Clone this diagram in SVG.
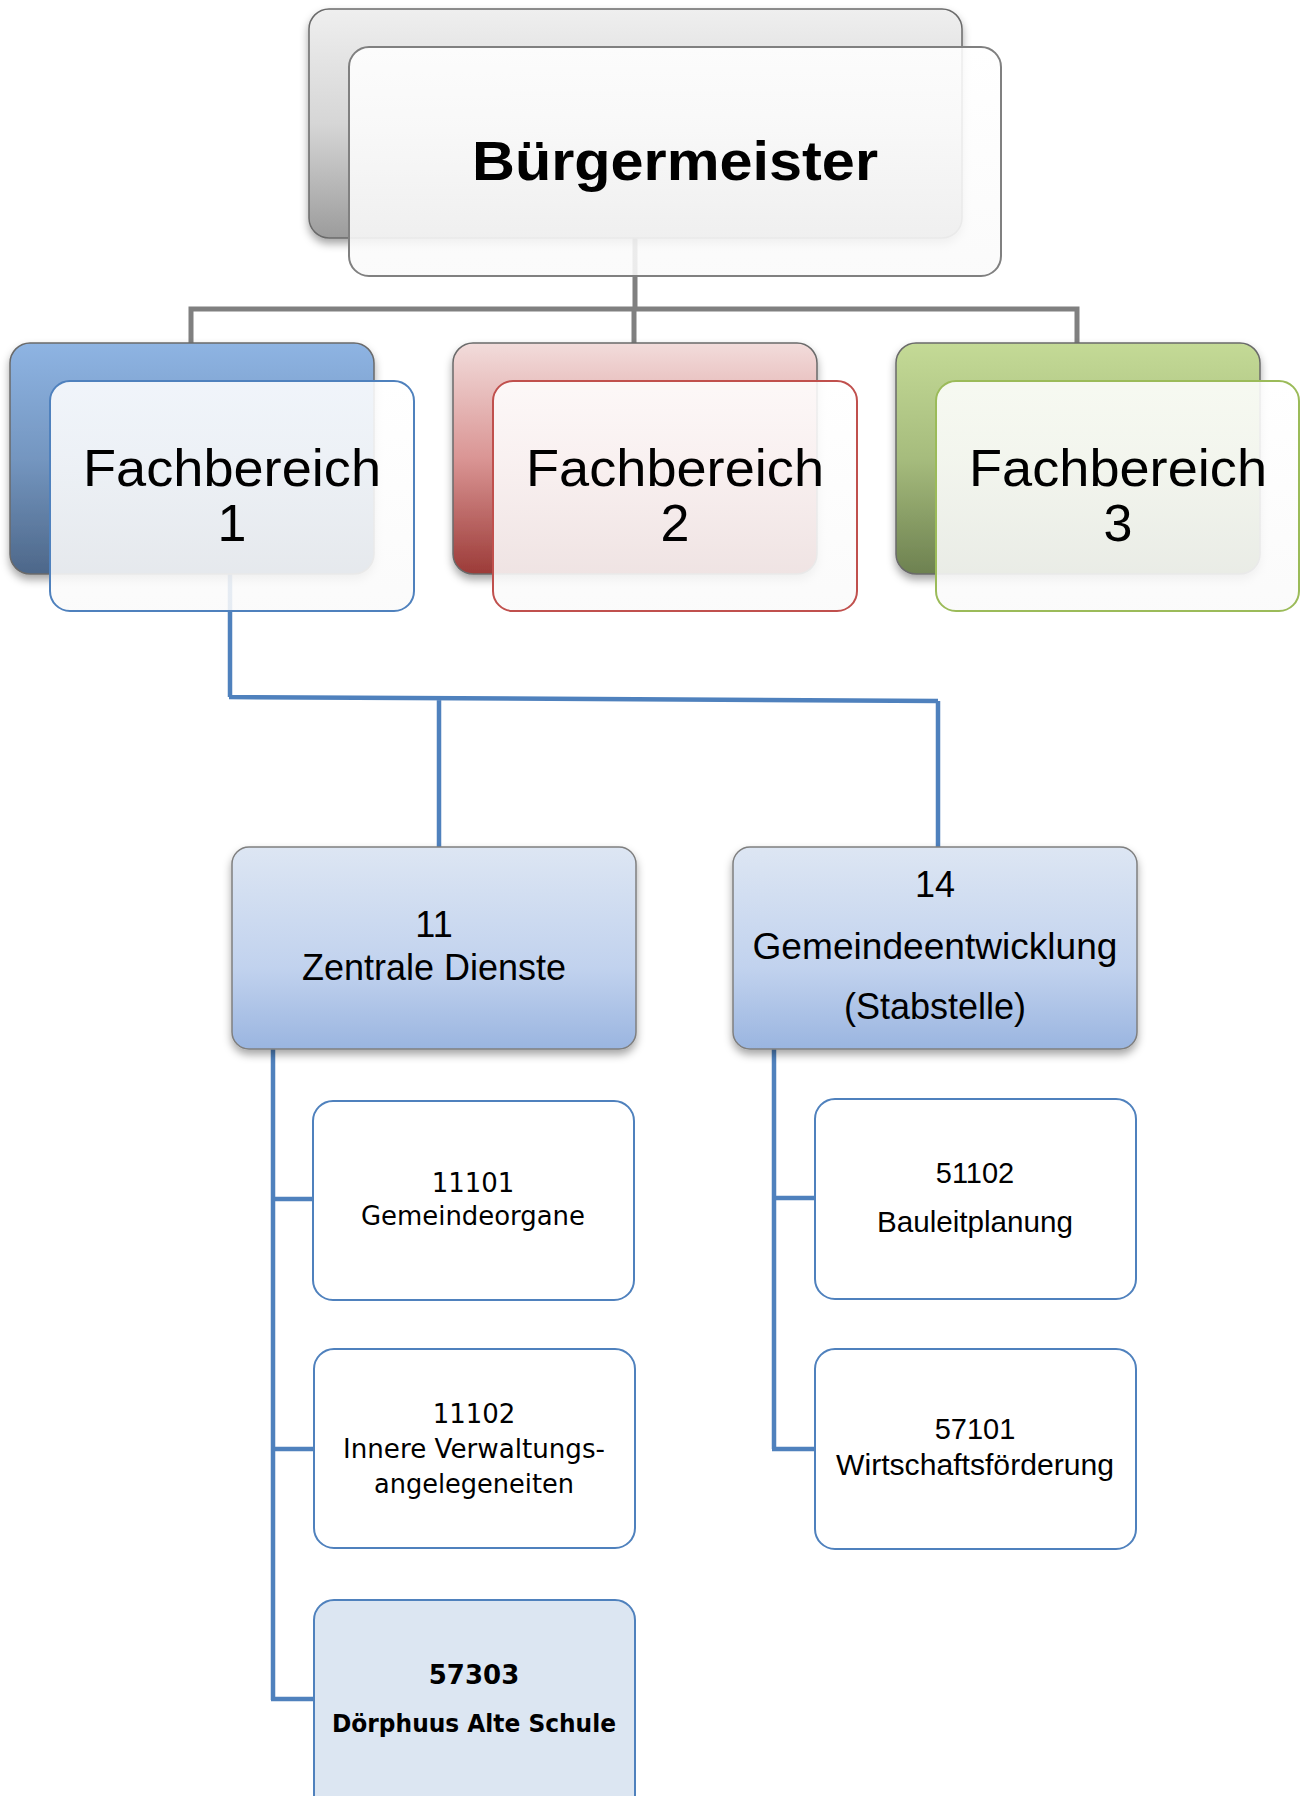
<svg xmlns="http://www.w3.org/2000/svg" width="1303" height="1796" viewBox="0 0 1303 1796">
<defs>
<linearGradient id="gGray" x1="0" y1="0" x2="0" y2="1"><stop offset="0" stop-color="#EFEFEF"/><stop offset="0.5" stop-color="#D6D6D6"/><stop offset="1" stop-color="#9C9C9C"/></linearGradient>
<linearGradient id="gBlue" x1="0" y1="0" x2="0" y2="1"><stop offset="0" stop-color="#8EB4E3"/><stop offset="0.5" stop-color="#7496C0"/><stop offset="1" stop-color="#4D6789"/></linearGradient>
<linearGradient id="gRed" x1="0" y1="0" x2="0" y2="1"><stop offset="0" stop-color="#F2DCDB"/><stop offset="0.5" stop-color="#DA9594"/><stop offset="1" stop-color="#9C3B38"/></linearGradient>
<linearGradient id="gGreen" x1="0" y1="0" x2="0" y2="1"><stop offset="0" stop-color="#C4DA96"/><stop offset="0.5" stop-color="#A6BC7D"/><stop offset="1" stop-color="#6D8150"/></linearGradient>
<linearGradient id="gMid" x1="0" y1="0" x2="0" y2="1"><stop offset="0" stop-color="#DDE6F3"/><stop offset="0.6" stop-color="#C1D2EE"/><stop offset="1" stop-color="#9AB5E0"/></linearGradient>
<linearGradient id="gFront" x1="0" y1="0" x2="0" y2="1"><stop offset="0" stop-color="#FFFFFF"/><stop offset="1" stop-color="#FAFAFA"/></linearGradient>
<filter id="sh" x="-10%" y="-10%" width="120%" height="130%"><feDropShadow dx="0" dy="5" stdDeviation="4" flood-color="#000" flood-opacity="0.35"/></filter>
<style>
.back{stroke:#6A6A6A;stroke-width:1.5;filter:url(#sh)}
.front{fill:url(#gFront);fill-opacity:0.88;stroke-width:2}
.leaf{fill:#FFFFFF;stroke:#4F81BD;stroke-width:2}
.mid{fill:url(#gMid);stroke:#7F7F7F;stroke-width:1.5;filter:url(#sh)}
.gray{stroke:#808080;stroke-width:5;fill:none}
.blue{stroke:#4F81BD;stroke-width:4.5;fill:none}
.big{font-family:"Liberation Sans",Arial,sans-serif;fill:#000;text-anchor:middle}
.cal{font-family:"Liberation Sans",Arial,sans-serif;fill:#000;text-anchor:middle}
.ver{font-family:"DejaVu Sans",Verdana,sans-serif;fill:#000;text-anchor:middle}
</style>
</defs>
<g id="connectors">
<path class="gray" d="M635 238 V309 M191 343 V309 H1077 V343 M634 309 V343"/>
<path class="blue" d="M230 574 V697 M229 697 L938 701 M439 697 V847 M938 701 V847"/>
<path class="blue" d="M273 1049 V1700 M271 1199 H314 M271 1449 H314 M271 1699 H314"/>
<path class="blue" d="M774 1049 V1449 M772 1198 H815 M772 1449 H815"/>
</g>
<g id="buergermeister">
<rect class="back" x="309" y="9" width="653" height="229" rx="20" fill="url(#gGray)"/>
<rect class="front" x="349" y="47" width="652" height="229" rx="20" stroke="#808080"/>
<text class="big" x="675" y="180" font-size="56" font-weight="bold" textLength="406" lengthAdjust="spacingAndGlyphs">Bürgermeister</text>
</g>
<g id="fb1">
<rect class="back" x="10" y="343" width="364" height="231" rx="20" fill="url(#gBlue)"/>
<rect class="front" x="50" y="381" width="364" height="230" rx="20" stroke="#4F81BD"/>
<text class="big" x="232" y="486" font-size="52" textLength="298" lengthAdjust="spacingAndGlyphs">Fachbereich</text>
<text class="big" x="232" y="541" font-size="52">1</text>
</g>
<g id="fb2">
<rect class="back" x="453" y="343" width="364" height="231" rx="20" fill="url(#gRed)"/>
<rect class="front" x="493" y="381" width="364" height="230" rx="20" stroke="#C0504D"/>
<text class="big" x="675" y="486" font-size="52" textLength="298" lengthAdjust="spacingAndGlyphs">Fachbereich</text>
<text class="big" x="675" y="541" font-size="52">2</text>
</g>
<g id="fb3">
<rect class="back" x="896" y="343" width="364" height="231" rx="20" fill="url(#gGreen)"/>
<rect class="front" x="936" y="381" width="363" height="230" rx="20" stroke="#9BBB59"/>
<text class="big" x="1118" y="486" font-size="52" textLength="298" lengthAdjust="spacingAndGlyphs">Fachbereich</text>
<text class="big" x="1118" y="541" font-size="52">3</text>
</g>
<g id="n11">
<rect class="mid" x="232" y="847" width="404" height="202" rx="17"/>
<text class="cal" x="434" y="937" font-size="36">11</text>
<text class="cal" x="434" y="980" font-size="36" textLength="264" lengthAdjust="spacingAndGlyphs">Zentrale Dienste</text>
</g>
<g id="n14">
<rect class="mid" x="733" y="847" width="404" height="202" rx="17"/>
<text class="cal" x="935" y="897" font-size="36">14</text>
<text class="cal" x="935" y="959" font-size="36" textLength="365" lengthAdjust="spacingAndGlyphs">Gemeindeentwicklung</text>
<text class="cal" x="935" y="1019" font-size="36" textLength="182" lengthAdjust="spacingAndGlyphs">(Stabstelle)</text>
</g>
<g id="n11101">
<rect class="leaf" x="313" y="1101" width="321" height="199" rx="20"/>
<text class="ver" x="473" y="1192" font-size="26">11101</text>
<text class="ver" x="473" y="1225" font-size="26" textLength="224" lengthAdjust="spacingAndGlyphs">Gemeindeorgane</text>
</g>
<g id="n11102">
<rect class="leaf" x="314" y="1349" width="321" height="199" rx="20"/>
<text class="ver" x="474" y="1423" font-size="26">11102</text>
<text class="ver" x="474" y="1458" font-size="26" textLength="262" lengthAdjust="spacingAndGlyphs">Innere Verwaltungs-</text>
<text class="ver" x="474" y="1493" font-size="26" textLength="200" lengthAdjust="spacingAndGlyphs">angelegeneiten</text>
</g>
<g id="n57303">
<rect class="leaf" x="314" y="1600" width="321" height="230" rx="20" style="fill:#DCE6F2"/>
<text class="ver" x="474" y="1684" font-size="26" font-weight="bold">57303</text>
<text class="ver" x="474" y="1732" font-size="25" font-weight="bold" textLength="284" lengthAdjust="spacingAndGlyphs">Dörphuus Alte Schule</text>
</g>
<g id="n51102">
<rect class="leaf" x="815" y="1099" width="321" height="200" rx="20"/>
<text class="cal" x="975" y="1183" font-size="29">51102</text>
<text class="cal" x="975" y="1232" font-size="29" textLength="196" lengthAdjust="spacingAndGlyphs">Bauleitplanung</text>
</g>
<g id="n57101">
<rect class="leaf" x="815" y="1349" width="321" height="200" rx="20"/>
<text class="cal" x="975" y="1439" font-size="29">57101</text>
<text class="cal" x="975" y="1475" font-size="29" textLength="278" lengthAdjust="spacingAndGlyphs">Wirtschaftsförderung</text>
</g>
</svg>
